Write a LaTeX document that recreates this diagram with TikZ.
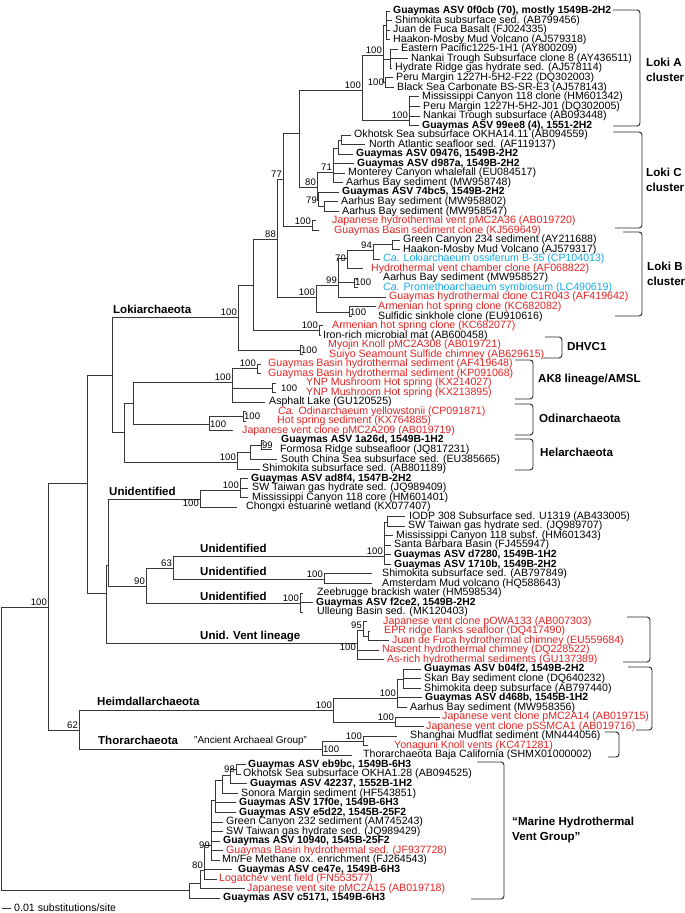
\documentclass[tikz,border=0pt]{standalone}
\usepackage{fontspec}
\setmainfont{Liberation Sans}
\usetikzlibrary{positioning}
\definecolor{ventred}{RGB}{226,35,35}
\definecolor{candblue}{RGB}{20,170,230}
\definecolor{treegray}{RGB}{55,55,55}
\begin{document}
\begin{tikzpicture}[x=1pt, y=-1pt,
  br/.style={treegray, line width=0.8pt},
  leaf/.style={anchor=west, inner sep=0pt, font=\fontsize{10.6}{11}\selectfont},
  blk/.style={text=black},
  asv/.style={text=black, font=\bfseries\fontsize{10.4}{11}\selectfont},
  vent/.style={text=ventred},
  cand/.style={text=candblue},
  bs/.style={inner sep=1pt, font=\fontsize{9.5}{10}\selectfont},
  farright/.style={right=8pt},
  grp/.style={anchor=base west, inner sep=0pt, font=\bfseries\fontsize{11.5}{12}\selectfont},
  clu/.style={anchor=west, inner sep=0pt, align=left, font=\bfseries\fontsize{11.6}{15}\selectfont},
  brk/.style={black!85, line width=0.9pt, rounded corners=3pt}]
\useasboundingbox (0,0) rectangle (685,913);

% leaves: index / tip x / text x / style / label
\foreach \k/\tp/\tx/\s/\txt in {
  1/390/393/asv/{Guaymas ASV 0f0cb (70), mostly 1549B-2H2},
  2/392/395/blk/{Shimokita subsurface sed. (AB799456)},
  3/390/393/blk/{Juan de Fuca Basalt (FJ024335)},
  4/390/393/blk/{Haakon-Mosby Mud Volcano (AJ579318)},
  5/398/401/blk/{Eastern Pacific1225-1H1 (AY800209)},
  6/408/411/blk/{Nankai Trough Subsurface clone 8 (AY436511)},
  7/392/395/blk/{Hydrate Ridge gas hydrate sed. (AJ578114)},
  8/393/396/blk/{Peru Margin 1227H-5H2-F22 (DQ302003)},
  9/394/397/blk/{Black Sea Carbonate BS-SR-E3 (AJ578143)},
  10/419/422/blk/{Mississippi Canyon 118 clone (HM601342)},
  11/420/423/blk/{Peru Margin 1227H-5H2-J01 (DQ302005)},
  12/420/423/blk/{Nankai Trough subsurface (AB093448)},
  13/419/422/asv/{Guaymas ASV 99ee8 (4), 1551-2H2},
  14/351/354/blk/{Okhotsk Sea subsurface OKHA14.11 (AB094559)},
  15/365/369/blk/{North Atlantic seafloor sed. (AF119137)},
  16/353/356/asv/{Guaymas ASV 09476, 1549B-2H2},
  17/354/357/asv/{Guaymas ASV d987a, 1549B-2H2},
  18/345/348/blk/{Monterey Canyon whalefall (EU084517)},
  19/343/346/blk/{Aarhus Bay sediment (MW958748)},
  20/339/342/asv/{Guaymas ASV 74bc5, 1549B-2H2},
  21/338/341/blk/{Aarhus Bay sediment (MW958802)},
  22/339/342/blk/{Aarhus Bay sediment (MW958547)},
  23/316/332/vent/{Japanese hydrothermal vent pMC2A36 (AB019720)},
  24/319/334/vent/{Guaymas Basin sediment clone (KJ569649)},
  25/400/403/blk/{Green Canyon 234 sediment (AY211688)},
  26/400/403/blk/{Haakon-Mosby Mud Volcano (AJ579317)},
  27/380/383/cand/{\textit{Ca.} Lokiarchaeum ossiferum B-35 (CP104013)},
  28/363/371/vent/{Hydrothermal vent chamber clone (AF068822)},
  29/358/383/blk/{Aarhus Bay sediment (MW958527)},
  30/358/383/cand/{\textit{Ca.} Promethoarchaeum symbiosum (LC490619)},
  31/386/389/vent/{Guaymas hydrothermal clone C1R043 (AF419642)},
  32/376/378/vent/{Armenian hot spring clone (KC682082)},
  33/352/378/blk/{Sulfidic sinkhole clone (EU910616)},
  34/323/332/vent/{Armenian hot spring clone (KC682077)},
  35/321/323/blk/{Iron-rich microbial mat (AB600458)},
  36/303/328/vent/{Myojin Knoll pMC2A308 (AB019721)},
  37/303/329/vent/{Suiyo Seamount Sulfide chimney (AB629615)},
  38/261/268/vent/{Guaymas Basin hydrothermal sediment (AF419648)},
  39/261/268/vent/{Guaymas Basin hydrothermal sediment (KP091068)},
  40/276/306/vent/{YNP Mushroom Hot spring (KX214027)},
  41/276/306/vent/{YNP Mushroom Hot spring (KX213895)},
  42/265/269/blk/{Asphalt Lake (GU120525)},
  43/246/278/vent/{\textit{Ca.} Odinarchaeum yellowstonii (CP091871)},
  44/246/277/vent/{Hot spring sediment (KX764885)},
  45/233/242/vent/{Japanese vent clone pMC2A209 (AB019719)},
  46/264/281/asv/{Guaymas ASV 1a26d, 1549B-1H2},
  47/272/280/blk/{Formosa Ridge subseafloor (JQ817231)},
  48/277/281/blk/{South China Sea subsurface sed. (EU385665)},
  49/260/262/blk/{Shimokita subsurface sed. (AB801189)},
  50/248/251/asv/{Guaymas ASV ad8f4, 1547B-2H2},
  51/248/252/blk/{SW Taiwan gas hydrate sed. (JQ989409)},
  52/248/252/blk/{Mississippi Canyon 118 core (HM601401)},
  53/237/246/blk/{Chongxi estuarine wetland (KX077407)},
  54/405/409/blk/{IODP 308 Subsurface sed. U1319 (AB433005)},
  55/405/408/blk/{SW Taiwan gas hydrate sed. (JQ989707)},
  56/393/396/blk/{Mississippi Canyon 118 subsf. (HM601343)},
  57/391/394/blk/{Santa Barbara Basin (FJ455947)},
  58/391/394/asv/{Guaymas ASV d7280, 1549B-1H2},
  59/391/394/asv/{Guaymas ASV 1710b, 1549B-2H2},
  60/372/382/blk/{Shimokita subsurface sed. (AB797849)},
  61/372/382/blk/{Amsterdam Mud volcano (HQ588643)},
  62/303/317/blk/{Zeebrugge brackish water (HM598534)},
  63/313/316/asv/{Guaymas ASV f2ce2, 1549B-2H2},
  64/303/317/blk/{Ulleung Basin sed. (MK120403)},
  65/367/383/vent/{Japanese vent clone pOWA133 (AB007303)},
  66/370/384/vent/{EPR ridge flanks seafloor (DQ417490)},
  67/389/392/vent/{Juan de Fuca hydrothermal chimney (EU559684)},
  68/379/382/vent/{Nascent hydrothermal chimney (DQ228522)},
  69/384/387/vent/{As-rich hydrothermal sediments (GU137389)},
  70/421/424/asv/{Guaymas ASV b04f2, 1549B-2H2},
  71/421/424/blk/{Skan Bay sediment clone (DQ640232)},
  72/421/424/blk/{Shimokita deep subsurface (AB797440)},
  73/422/425/asv/{Guaymas ASV d468b, 1545B-1H2},
  74/407/410/blk/{Aarhus Bay sediment (MW958356)},
  75/440/442/vent/{Japanese vent clone pMC2A14 (AB019715)},
  76/424/426/vent/{Japanese vent clone pSSMCA1 (AB019716)},
  77/397/410/blk/{Shanghai Mudflat sediment (MN444056)},
  78/368/394/vent/{Yonaguni Knoll vents (KC471281)},
  79/352/363/blk/{Thorarchaeota Baja California (SHMX01000002)},
  80/246/248/asv/{Guaymas ASV eb9bc, 1549B-6H3},
  81/241/243/blk/{Okhotsk Sea subsurface OKHA1.28 (AB094525)},
  82/247/250/asv/{Guaymas ASV 42237, 1552B-1H2},
  83/238/241/blk/{Sonora Margin sediment (HF543851)},
  84/236/239/asv/{Guaymas ASV 17f0e, 1549B-6H3},
  85/236/239/asv/{Guaymas ASV e5d22, 1545B-25F2},
  86/223/226/blk/{Green Canyon 232 sediment (AM745243)},
  87/223/226/blk/{SW Taiwan gas hydrate sed. (JQ989429)},
  88/220/223/asv/{Guaymas ASV 10940, 1545B-25F2},
  89/223/226/vent/{Guaymas Basin hydrothermal sed. (JF937728)},
  90/220/222/blk/{Mn/Fe Methane ox. enrichment (FJ264543)},
  91/232/238/asv/{Guaymas ASV ce47e, 1549B-6H3},
  92/217/219/vent/{Logatchev vent field (FN553577)},
  93/245/247/vent/{Japanese vent site pMC2A15 (AB019718)},
  94/220/223/asv/{Guaymas ASV c5171, 1549B-6H3}}{
  \coordinate (t\k) at (\tp,{11+(\k-1)*9.54});
  \node[leaf,\s] (l\k) at (\tx,{11+(\k-1)*9.54}) {\txt};
}

% internal nodes
\foreach \n/\a/\b in {root/1/750, N100/48/607, NA/87/483, NB/112/375,
  Loki/238/317, DH/300/350, L253/253/285, AI/319/330, L277/277/239,
  L283/283/179, JP/312/226, LAC/299/133, LA/362/90, AU/383/55, A1/386/25,
  A2/390/59, A3/385/82, AL/409/120, LC/317/187, C71/333/172, C1/338/148,
  C1a/341/140, C79/318/200, C79b/324/206, LB/316/297, B99/338/285,
  B70/347/258, B94/373/250, B94a/392/244, BP/354/282, BS/349/312,
  NC/124/432, N133/133/403, AK8/232/382, AKa/257/368, AKb/272/388,
  Odin/209/424, OdP/243/416, Hel/237/462, H1/250/452, H99/261/445,
  NU/106/593, NU2/108/565, U1/200/499, U1a/240/490, N90/146/586,
  N63/173/568, U2/384/556, U2a/387/522, U3/324/579, U4/300/603,
  UV/357/643, V95/363/630, V95b/368/636, N62/79/730, Heim/333/710,
  H100a/397/698, Ha1/403/679, Hp/395/722, Thor/322/749, T100/363/741,
  M0/189/890, Mb/200/883, M80/204/870, M99/211/845, Mc/215/800,
  Md/222/780, Me/230/775, M98/236/769}
  \coordinate (\n) at (\a,\b);

% branches
\foreach \p/\c in {root/N100, root/M0, N100/NA, N100/N62, NA/NB, NA/NU,
  NB/Loki, NB/NC, Loki/L253, Loki/DH, DH/t36, DH/t37, L253/L277, L253/AI,
  AI/t34, AI/t35, L277/L283, L277/LB, L283/LAC, L283/JP, JP/t23, JP/t24,
  LAC/LA, LAC/LC, LA/AU, LA/AL, AU/A1, AU/A2, AU/A3, A1/t1, A1/t2, A1/t3,
  A1/t4, A2/t5, A2/t6, A2/t7, A3/t8, A3/t9, AL/t10, AL/t11, AL/t12, AL/t13,
  LC/C71, LC/C79, C71/C1, C71/t17, C71/t18, C71/t19, C1/C1a, C1/t16,
  C1a/t14, C1a/t15, C79/t20, C79/C79b, C79b/t21, C79b/t22, LB/B99, LB/BS,
  B99/B70, B99/BP, B99/t31, B70/B94, B70/t28, B94/B94a, B94/t27, B94a/t25,
  B94a/t26, BP/t29, BP/t30, BS/t32, BS/t33, NC/N133, NC/Hel, N133/AK8,
  N133/Odin, AK8/AKa, AK8/AKb, AK8/t42, AKa/t38, AKa/t39, AKb/t40, AKb/t41,
  Odin/OdP, Odin/t45, OdP/t43, OdP/t44, Hel/H1, Hel/t49, H1/H99, H1/t48,
  H99/t46, H99/t47, NU/NU2, NU/UV, NU2/U1, NU2/N90, U1/U1a, U1/t53,
  U1a/t50, U1a/t51, U1a/t52, N90/N63, N90/U4, N63/U2, N63/U3, U2/U2a,
  U2/t56, U2/t57, U2/t58, U2/t59, U2a/t54, U2a/t55, U3/t60, U3/t61,
  U4/t62, U4/t63, U4/t64, UV/V95, UV/t68, UV/t69, V95/t65, V95/V95b,
  V95b/t66, V95b/t67, N62/Heim, N62/Thor, Heim/H100a, Heim/Hp, H100a/Ha1,
  H100a/t73, H100a/t74, Ha1/t70, Ha1/t71, Ha1/t72, Hp/t75, Hp/t76,
  Thor/T100, Thor/t79, T100/t77, T100/t78, M0/Mb, M0/t94, Mb/M80, Mb/t93,
  M80/M99, M80/t91, M80/t92, M99/Mc, M99/t86, M99/t87, M99/t88, M99/t89,
  M99/t90, Mc/Md, Mc/t84, Mc/t85, Md/Me, Md/t83, Me/M98, Me/t82, M98/t80,
  M98/t81}
  \draw[br] (\p) |- (\c);

% bootstrap values
\foreach \n/\pos/\v in {N100/above left/100, Loki/above left/100,
  L277/above left/88, L283/above left/77, LA/above left/100,
  AU/above left/100, A3/left/100, AL/above left/100, LC/above left/80,
  C71/above left/71, C79/left/79, JP/above left/100, LB/above left/100,
  B99/above left/99, B70/left/70, B94/above left/94, BP/right/100,
  BS/right/100, AI/above left/100, DH/right/100, AK8/above left/100,
  AKa/above left/100, AKb/farright/100, Odin/right/100, OdP/right/100,
  Hel/above left/100, H99/right/99, U1/below left/100, U1a/above left/100,
  N90/above left/90, N63/above left/63, U2/above left/100,
  U3/above left/100, U4/above left/100, UV/below left/100,
  V95/above left/95, Heim/above left/100, H100a/above left/100,
  Hp/above left/100, N62/above left/62, Thor/right/100,
  T100/above left/100, M98/left/98, M99/left/99, M80/above left/80}
  \node[bs,\pos] (bs\n) at (\n) {\v};

% clade names on the branches
\node[grp] (gLoki) at (113,313) {Lokiarchaeota};
\node[grp] (gU1) at (109,495) {Unidentified};
\node[grp] (gU2) at (200,552) {Unidentified};
\node[grp] (gU3) at (200,575) {Unidentified};
\node[grp] (gU4) at (200,600) {Unidentified};
\node[grp] (gUV) at (200,639) {Unid. Vent lineage};
\node[grp] (gHeim) at (97,705) {Heimdallarchaeota};
\node[grp] (gThor) at (98,744) {Thorarchaeota};
\node[leaf, font=\fontsize{10}{11}\selectfont] (aag) at (194,741) {"Ancient Archaeal Group"};

% brackets and cluster names
\draw[brk] (613,10) -- (640,10) -- (640,126) -- (613,126);
\draw[brk] (613,132) -- (642,132) -- (642,228) -- (615,228);
\draw[brk] (623,232) -- (642,232) -- (642,316) -- (615,316);
\draw[brk] (545,337) -- (562,337) -- (562,358) -- (543,358);
\draw[brk] (515,360) -- (533,360) -- (533,399) -- (515,399);
\draw[brk] (515,404) -- (533,404) -- (533,435) -- (515,435);
\draw[brk] (515,439) -- (533,439) -- (533,470) -- (515,470);
\draw[brk] (627,617) -- (650,617) -- (650,662) -- (623,662);
\draw[brk] (628,667) -- (652,667) -- (652,730) -- (636,730);
\draw[brk] (605,732) -- (619,732) -- (619,757) -- (608,757);
\draw[brk] (477,762) -- (504,762) -- (504,899) -- (471,899);
\node[clu] (cA) at (646,70) {Loki A\\cluster};
\node[clu] (cC) at (646,180) {Loki C\\cluster};
\node[clu] (cB) at (647,274) {Loki B\\cluster};
\node[clu] (cD) at (567,347) {DHVC1};
\node[clu] (cAK) at (538,380) {AK8 lineage/AMSL};
\node[clu] (cO) at (539,418) {Odinarchaeota};
\node[clu] (cH) at (540,452) {Helarchaeota};
\node[clu] (cM) at (512,830) {“Marine Hydrothermal\\Vent Group”};

% scale bar
\coordinate (sb) at (2,908);
\draw[br] (sb) -- ++(9,0) coordinate (sbe);
\node[leaf, right=3pt of sbe] (sbt) {0.01 substitutions/site};
\end{tikzpicture}
\end{document}
